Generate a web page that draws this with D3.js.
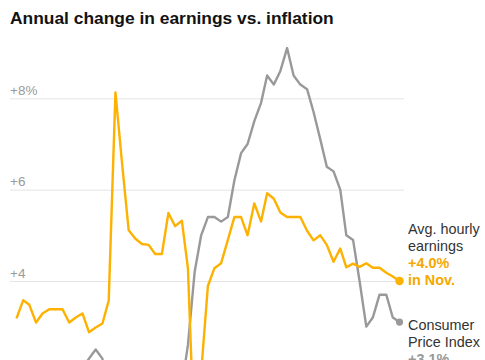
<!DOCTYPE html>
<html>
<head>
<meta charset="utf-8">
<script src="https://cdn.jsdelivr.net/npm/d3@7"></script>
<style>
  html, body { margin: 0; padding: 0; background: #fff; overflow: hidden; }
  svg { display: block; font-family: "Liberation Sans", Arial, sans-serif; }
</style>
</head>
<body>
<svg id="chart" width="485" height="360"></svg>
<script>
// ---- data ----
const startMonth = "2019-01";
const endMonth = "2023-11";
// Avg. hourly earnings, annual % change (monthly, Jan 2019 – Nov 2023)
const earnings = [
  3.18, 3.58, 3.48, 3.09, 3.29, 3.38, 3.38, 3.38, 3.09, 3.20, 3.29, 2.88,
  2.98, 3.07, 3.57, 8.13, 6.60, 5.11, 4.93, 4.81, 4.79, 4.59, 4.59, 5.49,
  5.20, 5.32, 4.28, 0.30, 2.00, 3.89, 4.28, 4.39, 4.90, 5.40, 5.40, 5.00,
  5.70, 5.30, 5.92, 5.80, 5.50, 5.40, 5.40, 5.40, 5.10, 4.89, 5.00, 4.79,
  4.42, 4.71, 4.30, 4.38, 4.31, 4.39, 4.29, 4.29, 4.18, 4.10, 4.00
];
// Consumer Price Index, annual % change
const cpi = [
  1.6, 1.5, 1.9, 2.0, 1.8, 1.6, 1.8, 1.7, 1.7, 1.8, 2.1, 2.3,
  2.5, 2.3, 1.5, 0.3, 0.1, 0.6, 1.0, 1.3, 1.4, 1.2, 1.2, 1.4,
  1.4, 1.7, 2.6, 4.2, 5.0, 5.4, 5.4, 5.3, 5.4, 6.2, 6.8, 7.0,
  7.5, 7.9, 8.5, 8.3, 8.6, 9.1, 8.5, 8.3, 8.2, 7.7, 7.1, 6.5,
  6.4, 6.0, 5.0, 4.9, 4.0, 3.0, 3.2, 3.7, 3.7, 3.2, 3.1
];
const yTicks = [0, 2, 4, 6, 8];
const yTickLabels = ["0", "+2", "+4", "+6", "+8%"];
const title = "Annual change in earnings vs. inflation";
const earningsLabel = ["Avg. hourly", "earnings", "+4.0%", "in Nov."];
const cpiLabel = ["Consumer", "Price Index", "+3.1%", "in Nov."];

// ---- chart ----
const parse = d3.timeParse("%Y-%m");
const months = d3.timeMonth.range(parse(startMonth), d3.timeMonth.offset(parse(endMonth), 1));

const YELLOW = "#fdb100";
const YELLOW_TEXT = "#f5a800";
const GREY = "#999999";

const svg = d3.select("#chart");

const x = d3.scaleTime()
  .domain([months[0], months[months.length - 1]])
  .range([16.5, 399.5]);
const y = d3.scaleLinear().domain([0, 8]).range([463.7, 98.3]);

// title
svg.append("text")
  .attr("x", 10).attr("y", 23.5)
  .attr("font-size", 17.4).attr("font-weight", 700).attr("fill", "#121212")
  .text(title);

// gridlines + labels
const yAxis = d3.axisLeft(y).tickValues(yTicks)
  .tickSize(-(404 - 10))
  .tickFormat((d, i) => yTickLabels[i]);
const gAxis = svg.append("g").attr("transform", "translate(10,0)").call(yAxis);
gAxis.select(".domain").remove();
gAxis.selectAll(".tick line").attr("stroke", "#e4e4e4").attr("stroke-width", 1);
gAxis.selectAll(".tick text")
  .attr("x", 0).attr("dy", "-4px")
  .attr("text-anchor", "start")
  .attr("fill", "#9a9a9a")
  .attr("font-size", 13.5)
  .attr("font-family", "\"Liberation Sans\", Arial, sans-serif");

const line = d3.line()
  .x((d, i) => x(months[i]))
  .y(d => y(d))
  .curve(d3.curveLinear);

svg.append("path").datum(cpi)
  .attr("fill", "none").attr("stroke", GREY).attr("stroke-width", 2.4)
  .attr("stroke-linejoin", "round").attr("d", line);

svg.append("path").datum(earnings)
  .attr("fill", "none").attr("stroke", YELLOW).attr("stroke-width", 2.4)
  .attr("stroke-linejoin", "round").attr("d", line);

const last = months.length - 1;
svg.append("circle")
  .attr("cx", x(months[last])).attr("cy", y(cpi[last]))
  .attr("r", 3.6).attr("fill", GREY);
svg.append("circle")
  .attr("cx", x(months[last])).attr("cy", y(earnings[last]))
  .attr("r", 4.2).attr("fill", YELLOW);

// end labels
function endLabel(lines, firstBaseline, accent) {
  const t = svg.append("text")
    .attr("x", 408).attr("y", firstBaseline)
    .attr("font-size", 14.4);
  lines.forEach((s, i) => {
    t.append("tspan")
      .attr("x", 408)
      .attr("dy", i === 0 ? 0 : 17)
      .attr("fill", i < 2 ? "#333333" : accent)
      .attr("font-weight", i < 2 ? 400 : 700)
      .text(s);
  });
}
endLabel(earningsLabel, 234, YELLOW_TEXT);
endLabel(cpiLabel, 330, GREY);
</script>
</body>
</html>
